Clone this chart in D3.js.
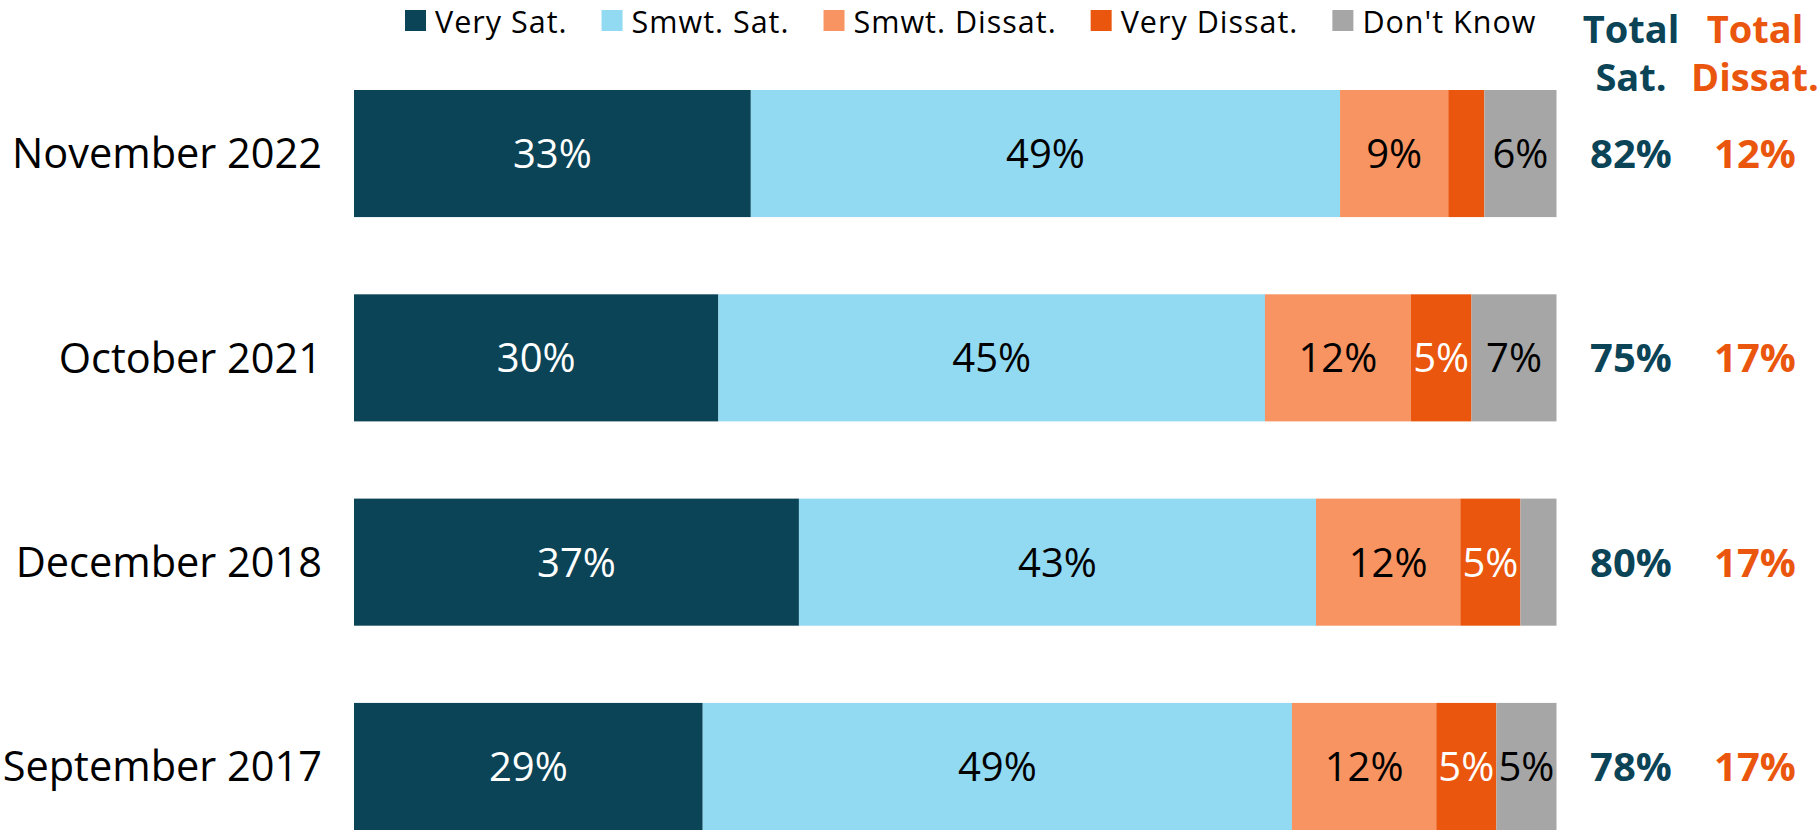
<!DOCTYPE html>
<html>
<head>
<meta charset="utf-8">
<script src="https://cdn.jsdelivr.net/npm/d3@7"></script>
<style>
  html, body { margin: 0; padding: 0; background: #fff; }
  svg { display: block; font-family: "Open Sans", "Noto Sans", sans-serif; }
</style>
</head>
<body>
<div id="chart"></div>
<script>
const periods = ["November 2022", "October 2021", "December 2018", "September 2017"];
const verySat = [33, 30, 37, 29];
const smwtSat = [49, 45, 43, 49];
const smwtDissat = [9, 12, 12, 12];
const veryDissat = [3, 5, 5, 5];
const dontKnow = [6, 7, 3, 5];

const seriesNames = ["Very Sat.", "Smwt. Sat.", "Smwt. Dissat.", "Very Dissat.", "Don't Know"];
const seriesKeys = ["verySat", "smwtSat", "smwtDissat", "veryDissat", "dontKnow"];
const colors = ["#0b4457", "#92d9f2", "#f79461", "#ea560d", "#a6a6a6"];
const labelColors = ["#fff", "#000", "#000", "#fff", "#000"];

const w = 1820, h = 832;
const colSat = "#0b4457", colDissat = "#ea560d";

const rows = periods.map((p, i) => ({
  period: p,
  verySat: verySat[i], smwtSat: smwtSat[i], smwtDissat: smwtDissat[i],
  veryDissat: veryDissat[i], dontKnow: dontKnow[i]
}));

const svg = d3.select("#chart").append("svg").attr("width", w).attr("height", h);

const x = d3.scaleLinear().domain([0, 1]).range([354, 1556.5]);
const y = d3.scaleBand().domain(periods).range([90, 830]).paddingInner(0.378);

const stacked = d3.stack().keys(seriesKeys).offset(d3.stackOffsetExpand)(rows);

const layers = svg.append("g")
  .selectAll("g")
  .data(stacked)
  .join("g")
  .attr("fill", (d, i) => colors[i]);

layers.selectAll("rect")
  .data(d => d)
  .join("rect")
  .attr("x", d => x(d[0]))
  .attr("y", d => y(d.data.period))
  .attr("width", d => x(d[1]) - x(d[0]))
  .attr("height", y.bandwidth());

// segment labels (small slices are left blank)
layers.selectAll("text")
  .data((d, i) => d.map(v => ({v, key: d.key, i})))
  .join("text")
  .filter(d => d.v.data[d.key] >= 4)
  .attr("x", d => (x(d.v[0]) + x(d.v[1])) / 2)
  .attr("y", d => y(d.v.data.period) + y.bandwidth() / 2)
  .attr("dy", "0.36em")
  .attr("text-anchor", "middle")
  .attr("font-size", 40)
  .attr("fill", d => labelColors[d.i])
  .text(d => d.v.data[d.key] + "%");

// category labels
svg.append("g")
  .selectAll("text")
  .data(periods)
  .join("text")
  .attr("x", 322)
  .attr("y", d => y(d) + y.bandwidth() / 2)
  .attr("dy", "0.36em")
  .attr("text-anchor", "end")
  .attr("font-size", 41.5)
  .attr("fill", "#000")
  .text(d => d);

// totals columns
const totals = [
  {title: ["Total", "Sat."], cx: 1631, color: colSat, val: r => r.verySat + r.smwtSat},
  {title: ["Total", "Dissat."], cx: 1755, color: colDissat, val: r => r.smwtDissat + r.veryDissat}
];

totals.forEach(t => {
  const g = svg.append("g").attr("fill", t.color).attr("font-weight", "bold").attr("text-anchor", "middle");
  g.selectAll("text.head")
    .data(t.title)
    .join("text")
    .attr("class", "head")
    .attr("x", t.cx)
    .attr("y", (d, i) => 43 + i * 48)
    .attr("font-size", 38)
    .text(d => d);
  g.selectAll("text.val")
    .data(rows)
    .join("text")
    .attr("class", "val")
    .attr("x", t.cx)
    .attr("y", d => y(d.period) + y.bandwidth() / 2)
    .attr("dy", "0.36em")
    .attr("font-size", 40)
    .text(d => t.val(d) + "%");
});

// legend
const legend = svg.append("g").attr("font-size", 30.5).attr("letter-spacing", 1);
let lx = 405;
seriesNames.forEach((name, i) => {
  const item = legend.append("g").attr("transform", `translate(${lx},0)`);
  item.append("rect").attr("x", 0).attr("y", 10).attr("width", 21).attr("height", 21).attr("fill", colors[i]);
  const t = item.append("text").attr("x", 30).attr("y", 33).attr("fill", "#000").text(name);
  lx += 30 + t.node().getComputedTextLength() + 34;
});
</script>
</body>
</html>
